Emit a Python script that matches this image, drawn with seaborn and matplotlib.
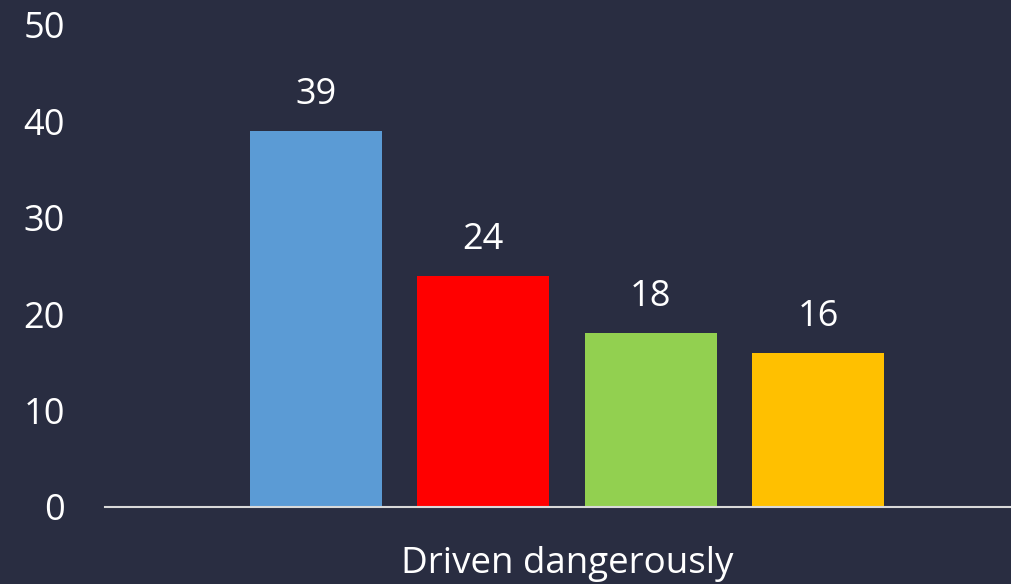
import matplotlib
matplotlib.use("Agg")
import matplotlib.pyplot as plt
import seaborn as sns
import pandas as pd

categories = ["Driven dangerously"]
series = ["Series 1", "Series 2", "Series 3", "Series 4"]
values = [39, 24, 18, 16]
colors = ["#5b9bd5", "#ff0000", "#92d050", "#ffc000"]
yticks = [0, 10, 20, 30, 40, 50]

bg = "#292d41"
sns.set_theme(style="white")
plt.rcParams["font.family"] = ["Open Sans", "DejaVu Sans"]

df = pd.DataFrame({"category": categories * len(series), "series": series, "value": values})

fig = plt.figure(figsize=(10.12, 5.84), dpi=100, facecolor=bg)
ax = fig.add_axes([105 / 1012, 77 / 584, 907 / 1012, (507 - 25) / 584])
ax.set_facecolor(bg)

sns.barplot(data=df, x="category", y="value", hue="series", palette=colors,
            width=0.8, gap=0.21, legend=False, ax=ax, saturation=1,
            linewidth=0, edgecolor="none")

for c in ax.containers:
    ax.bar_label(c, fmt="%d", padding=13, color="white", fontsize=26)

ax.set_ylim(0, 50)
ax.set_xlim(-0.5516, 0.5313)
ax.set_yticks(yticks)
ax.set_yticklabels([str(t) for t in yticks])
ax.tick_params(axis="y", length=0, pad=29, labelsize=26, labelcolor="white")
ax.tick_params(axis="x", length=0, pad=28, labelsize=26.5, labelcolor="white")
ax.set_xlabel("")
ax.set_ylabel("")
for s in ["top", "right", "left"]:
    ax.spines[s].set_visible(False)
ax.spines["bottom"].set_color("#d9d9d9")
ax.spines["bottom"].set_linewidth(1.5)
ax.grid(False)

fig.savefig("out.png", dpi=100, facecolor=bg)
